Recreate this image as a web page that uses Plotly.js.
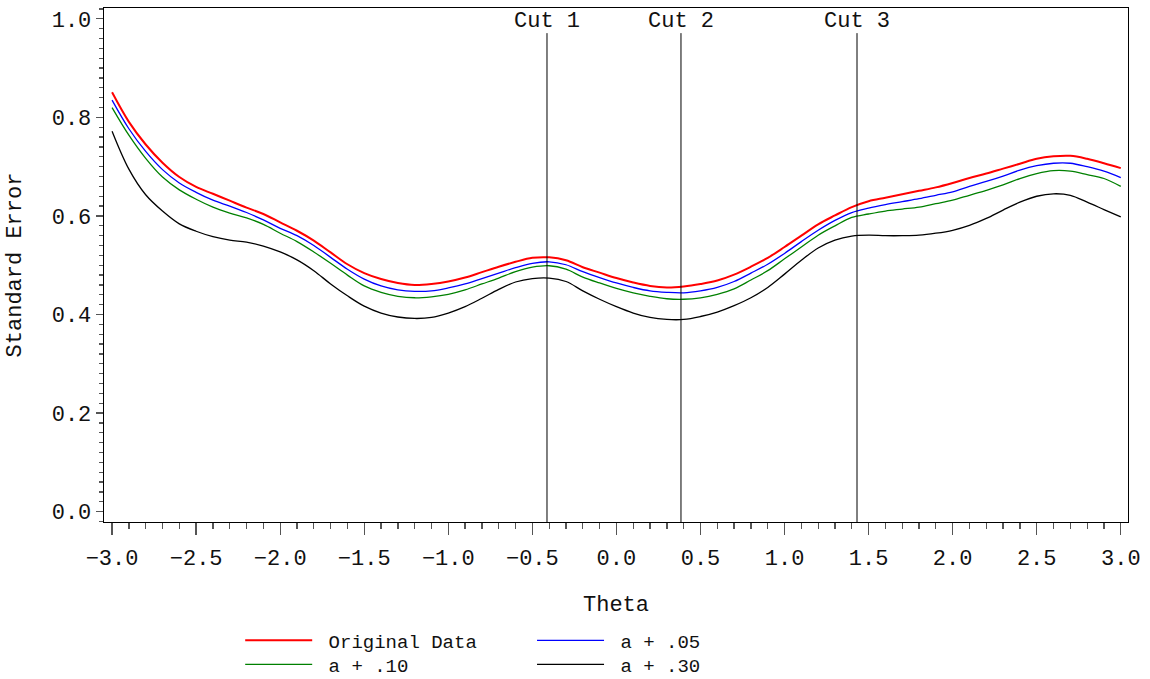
<!DOCTYPE html>
<html>
<head>
<meta charset="utf-8">
<script src="https://cdn.plot.ly/plotly-3.0.1.min.js"></script>
<style>
  html, body { margin: 0; padding: 0; background: #ffffff; }
  #chart { width: 1150px; height: 679px; }
</style>
</head>
<body>
<div id="chart"></div>
<script>
// Ability level (theta) grid
const theta = [-3.0,-2.9,-2.8,-2.7,-2.6,-2.5,-2.4,-2.3,-2.2,-2.1,
  -2.0,-1.9,-1.8,-1.7,-1.6,-1.5,-1.4,-1.3,-1.2,-1.1,
  -1.0,-0.9,-0.8,-0.7,-0.6,-0.5,-0.4,-0.3,-0.2,-0.1,
  0.0,0.1,0.2,0.3,0.4,0.5,0.6,0.7,0.8,0.9,
  1.0,1.1,1.2,1.3,1.4,1.5,1.6,1.7,1.8,1.9,
  2.0,2.1,2.2,2.3,2.4,2.5,2.6,2.7,2.8,2.9,3.0];

// Standard error of measurement for each condition
const seOriginal = [0.851,0.791,0.745,0.708,0.679,0.659,0.645,0.631,0.617,0.604,
  0.587,0.570,0.550,0.526,0.502,0.484,0.472,0.464,0.460,0.462,
  0.467,0.475,0.486,0.497,0.507,0.515,0.516,0.510,0.496,0.485,
  0.474,0.465,0.458,0.455,0.457,0.462,0.469,0.481,0.497,0.515,
  0.537,0.560,0.583,0.601,0.618,0.630,0.637,0.644,0.651,0.658,
  0.667,0.677,0.686,0.696,0.706,0.716,0.721,0.722,0.716,0.707,0.697];

const seA05 = [0.835,0.777,0.731,0.694,0.667,0.648,0.632,0.620,0.607,0.592,
  0.575,0.560,0.540,0.516,0.492,0.472,0.458,0.450,0.447,0.448,
  0.454,0.462,0.473,0.484,0.495,0.504,0.507,0.501,0.487,0.475,
  0.464,0.455,0.448,0.445,0.444,0.448,0.455,0.467,0.484,0.502,
  0.524,0.548,0.571,0.591,0.607,0.616,0.623,0.629,0.635,0.642,
  0.649,0.660,0.670,0.681,0.693,0.702,0.707,0.707,0.700,0.691,0.678];

const seA10 = [0.820,0.764,0.717,0.679,0.653,0.634,0.618,0.606,0.596,0.583,
  0.565,0.548,0.527,0.504,0.480,0.458,0.445,0.437,0.434,0.436,
  0.441,0.450,0.462,0.474,0.487,0.496,0.499,0.492,0.476,0.464,
  0.453,0.444,0.437,0.432,0.431,0.434,0.441,0.452,0.470,0.489,
  0.513,0.537,0.561,0.580,0.597,0.604,0.610,0.614,0.618,0.625,
  0.632,0.642,0.652,0.663,0.676,0.686,0.692,0.691,0.684,0.676,0.660];

const seA30 = [0.772,0.695,0.643,0.610,0.584,0.569,0.558,0.551,0.547,0.539,
  0.527,0.511,0.489,0.462,0.438,0.417,0.403,0.395,0.392,0.394,
  0.403,0.416,0.433,0.451,0.466,0.473,0.474,0.467,0.448,0.431,
  0.416,0.403,0.394,0.390,0.390,0.396,0.405,0.418,0.434,0.455,
  0.482,0.510,0.535,0.551,0.559,0.561,0.560,0.560,0.561,0.565,
  0.571,0.581,0.595,0.612,0.628,0.640,0.645,0.642,0.628,0.613,0.598];

// Cut score locations on the theta scale
const cutPoints = [-0.413, 0.384, 1.431];
const cutLabels = ['Cut 1', 'Cut 2', 'Cut 3'];

const seriesNames = ['Original Data', 'a + .05', 'a + .10', 'a + .30'];
const seriesData = [seOriginal, seA05, seA10, seA30];
const seriesColors = ['#ff0000', '#0000ff', '#008000', '#000000'];
const seriesWidths = [2, 1.3, 1.3, 1.3];
const seriesLegends = ['legend', 'legend2', 'legend3', 'legend4'];

const FONT = 'Liberation Mono, Courier New, monospace';
const Y_RANGE = [-0.021, 1.022];
const CUT_TOP = 0.971;
const NBSP = '\u00a0';

const traces = seriesNames.map((name, i) => ({
  type: 'scatter',
  mode: 'lines',
  name: NBSP + name,
  x: theta,
  y: seriesData[i],
  line: { color: seriesColors[i], width: seriesWidths[i], shape: 'spline', smoothing: 1 },
  legend: seriesLegends[i],
  hoverinfo: 'x+y+name'
}));
// draw the reference curve on top
traces.reverse();

const shapes = cutPoints.map(c => ({
  type: 'line', xref: 'x', yref: 'y',
  x0: c, x1: c, y0: Y_RANGE[0], y1: CUT_TOP,
  line: { color: '#000000', width: 1 }
}));

const annotations = cutPoints.map((c, i) => ({
  xref: 'x', yref: 'y', x: c, y: 0.994,
  text: cutLabels[i], showarrow: false,
  xanchor: 'center', yanchor: 'middle',
  font: { family: FONT, size: 22, color: '#111111' }
}));

function legendBox(x, y) {
  return {
    x: x, y: y, xanchor: 'left', yanchor: 'middle',
    orientation: 'v', bgcolor: 'rgba(0,0,0,0)', borderwidth: 0,
    itemwidth: 67, itemclick: false, itemdoubleclick: false,
    font: { family: FONT, size: 19, color: '#111111' }
  };
}

const layout = {
  width: 1150, height: 679,
  margin: { l: 104, r: 22, t: 8, b: 157, autoexpand: false },
  paper_bgcolor: '#ffffff', plot_bgcolor: '#ffffff',
  font: { family: FONT, size: 22, color: '#111111' },
  showlegend: true,
  legend: legendBox(0.133, -0.2305),
  legend2: legendBox(0.418, -0.2305),
  legend3: legendBox(0.133, -0.2772),
  legend4: legendBox(0.418, -0.2772),
  xaxis: {
    range: [-3.048, 3.043],
    tick0: 0, dtick: 0.5, tickformat: '.1f',
    ticks: 'outside', ticklen: 12, tickwidth: 1.3, tickcolor: '#555555',
    ticklabelstandoff: 3,
    minor: { dtick: 0.1, ticks: 'outside', ticklen: 6, tickwidth: 1.3, tickcolor: '#555555', showgrid: false },
    showline: true, linecolor: '#000000', linewidth: 1.3, mirror: true,
    showgrid: false, zeroline: false,
    tickfont: { family: FONT, size: 22, color: '#111111' },
    title: { text: 'Theta', standoff: 25, font: { family: FONT, size: 22, color: '#111111' } }
  },
  yaxis: {
    range: Y_RANGE,
    tick0: 0, dtick: 0.2, tickformat: '.1f',
    ticks: 'outside', ticklen: 7, tickwidth: 1.3, tickcolor: '#555555',
    minor: { dtick: 0.02, ticks: 'outside', ticklen: 4, tickwidth: 1.3, tickcolor: '#555555', showgrid: false },
    showline: true, linecolor: '#000000', linewidth: 1.3, mirror: true,
    showgrid: false, zeroline: false,
    tickfont: { family: FONT, size: 22, color: '#111111' },
    title: { text: 'Standard Error', standoff: 24, font: { family: FONT, size: 22, color: '#111111' } }
  },
  shapes: shapes,
  annotations: annotations
};

Plotly.newPlot('chart', traces, layout, { displayModeBar: false, staticPlot: true });
</script>
</body>
</html>
